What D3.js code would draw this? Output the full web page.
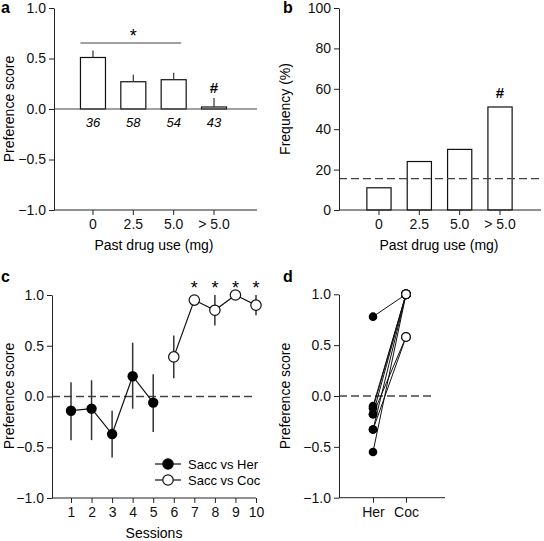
<!DOCTYPE html>
<html><head><meta charset="utf-8">
<script src="https://cdn.jsdelivr.net/npm/d3@7"></script>
<style>
body{margin:0;background:#fff;}
svg{display:block;font-family:Arial,"Liberation Sans",sans-serif;}
.tick text{font-size:14px;fill:#111;font-family:Arial,"Liberation Sans",sans-serif;}
.tick line{stroke:#222;}
</style></head>
<body>
<svg id="chart" width="544" height="541"></svg>
<script>
// Panel a
const catsA = ["0", "2.5", "5.0", "> 5.0"];
const prefA = [0.51, 0.27, 0.29, 0.02];
const errA = [0.07, 0.07, 0.07, 0.09];
const nA = ["36", "58", "54", "43"];
const yTicksPref = [-1.0, -0.5, 0.0, 0.5, 1.0];
// Panel b
const freqB = [11, 24, 30, 51];
const chanceB = 15.5;
const yTicksFreq = [0, 20, 40, 60, 80, 100];
// Panel c
const sessionsHer = [1, 2, 3, 4, 5];
const herMean = [-0.14, -0.12, -0.37, 0.20, -0.06];
const herLo = [-0.43, -0.43, -0.60, -0.12, -0.35];
const herHi = [0.14, 0.16, -0.14, 0.53, 0.22];
const sessionsCoc = [6, 7, 8, 9, 10];
const cocMean = [0.39, 0.95, 0.85, 1.0, 0.90];
const cocLo = [0.18, 0.95, 0.70, 1.0, 0.80];
const cocHi = [0.60, 0.95, 1.0, 1.0, 1.0];
const sigSessions = [7, 8, 9, 10];
// Panel d
const drugsD = ["Her", "Coc"];
const herD = [0.78, -0.10, -0.12, -0.18, -0.33, -0.55, -0.18, -0.33];
const cocD = [1.0, 1.0, 1.0, 1.0, 1.0, 1.0, 0.58, 0.58];

const svg = d3.select("#chart");
const fmt1 = d3.format(".1f");
const AX = "#222";

function yAxis(g, scale, x, ticks, fmt) {
  g.append("g").attr("transform", `translate(${x},0)`)
    .call(d3.axisLeft(scale).tickValues(ticks).tickFormat(fmt).tickSize(5).tickSizeOuter(0).tickPadding(3))
    .call(s => s.select(".domain").attr("stroke", AX));
}
function xAxisBottom(g, scale, y, x0, x1) {
  const a = g.append("g").attr("transform", `translate(0,${y})`)
    .call(d3.axisBottom(scale).tickSize(5).tickPadding(4));
  a.select(".domain").remove();
  g.append("line").attr("x1", x0).attr("x2", x1).attr("y1", y).attr("y2", y).attr("stroke", AX);
  return a;
}
function letter(t, x, y) {
  svg.append("text").attr("x", x).attr("y", y).attr("font-weight", "bold").attr("font-size", 16).text(t);
}
function ylabel(t, x, y) {
  svg.append("text").attr("transform", `translate(${x},${y}) rotate(-90)`).attr("text-anchor", "middle")
    .attr("font-size", 14).text(t);
}
function xlabel(t, x, y) {
  svg.append("text").attr("x", x).attr("y", y).attr("text-anchor", "middle").attr("font-size", 14).text(t);
}

// ---------- Panel a ----------
{
  const g = svg.append("g");
  const y = d3.scaleLinear().domain([-1, 1]).range([210, 8]);
  const x = d3.scaleBand().domain(catsA).range([72.8, 234.2]).paddingInner(0.38).paddingOuter(0.19);
  g.selectAll("rect.bar").data(catsA).join("rect")
    .attr("x", d => x(d)).attr("width", x.bandwidth())
    .attr("y", (d, i) => y(Math.max(0, prefA[i])))
    .attr("height", (d, i) => Math.abs(y(prefA[i]) - y(0)))
    .attr("fill", "#fff").attr("stroke", "#111").attr("stroke-width", 1.2);
  g.selectAll("line.err").data(catsA).join("line")
    .attr("x1", d => x(d) + x.bandwidth() / 2).attr("x2", d => x(d) + x.bandwidth() / 2)
    .attr("y1", (d, i) => y(prefA[i])).attr("y2", (d, i) => y(prefA[i] + errA[i]))
    .attr("stroke", "#333").attr("stroke-width", 1.2);
  g.append("line").attr("x1", 54).attr("x2", 257).attr("y1", y(0)).attr("y2", y(0)).attr("stroke", "#444").attr("stroke-width", 1.2);
  yAxis(g, y, 54, yTicksPref, fmt1);
  xAxisBottom(g, x, 210, 54, 257);
  g.selectAll("text.n").data(catsA).join("text")
    .attr("x", d => x(d) + x.bandwidth() / 2).attr("y", y(0) + 18)
    .attr("text-anchor", "middle").attr("font-style", "italic").attr("font-size", 13)
    .text((d, i) => nA[i]);
  g.append("line").attr("x1", x(catsA[0])).attr("x2", x(catsA[2]) + x.bandwidth() - 5)
    .attr("y1", 43).attr("y2", 43).attr("stroke", "#444");
  g.append("text").attr("x", (x(catsA[0]) + x(catsA[2]) + x.bandwidth()) / 2).attr("y", 42)
    .attr("text-anchor", "middle").attr("font-size", 18).text("*");
  g.append("text").attr("x", x(catsA[3]) + x.bandwidth() / 2).attr("y", y(prefA[3] + errA[3]) - 5)
    .attr("text-anchor", "middle").attr("font-size", 15).attr("font-weight", "bold").text("#");
  letter("a", 1, 13);
  ylabel("Preference score", 14, 109);
  xlabel("Past drug use (mg)", 154, 250);
}

// ---------- Panel b ----------
{
  const g = svg.append("g");
  const y = d3.scaleLinear().domain([0, 100]).range([210, 8]);
  const x = d3.scaleBand().domain(catsA).range([358.8, 520.2]).paddingInner(0.40).paddingOuter(0.20);
  g.selectAll("rect.bar").data(catsA).join("rect")
    .attr("x", d => x(d)).attr("width", x.bandwidth())
    .attr("y", (d, i) => y(freqB[i])).attr("height", (d, i) => y(0) - y(freqB[i]))
    .attr("fill", "#fff").attr("stroke", "#111").attr("stroke-width", 1.2);
  g.append("line").attr("x1", 339).attr("x2", 541).attr("y1", y(chanceB)).attr("y2", y(chanceB))
    .attr("stroke", "#444").attr("stroke-width", 1.3).attr("stroke-dasharray", "8,4");
  yAxis(g, y, 339, yTicksFreq, d3.format("d"));
  xAxisBottom(g, x, 210, 339, 541);
  g.append("text").attr("x", x(catsA[3]) + x.bandwidth() / 2).attr("y", y(freqB[3]) - 9)
    .attr("text-anchor", "middle").attr("font-size", 15).attr("font-weight", "bold").text("#");
  letter("b", 283, 13);
  ylabel("Frequency (%)", 290, 109);
  xlabel("Past drug use (mg)", 439, 250);
}

// ---------- Panel c ----------
{
  const g = svg.append("g");
  const y = d3.scaleLinear().domain([-1, 1]).range([498, 295]);
  const x = d3.scaleLinear().domain([1, 10]).range([71, 256]);
  g.append("line").attr("x1", 52).attr("x2", 256).attr("y1", y(0)).attr("y2", y(0))
    .attr("stroke", "#444").attr("stroke-width", 1.3).attr("stroke-dasharray", "8,4");
  yAxis(g, y, 52, yTicksPref, fmt1);
  const ax = g.append("g").attr("transform", "translate(0,498)")
    .call(d3.axisBottom(x).tickValues(d3.range(1, 11)).tickFormat(d3.format("d")).tickSize(5).tickPadding(4));
  ax.select(".domain").remove();
  g.append("line").attr("x1", 52).attr("x2", 256).attr("y1", 498).attr("y2", 498).attr("stroke", AX);
  const errs = (xs, lo, hi) => g.append("g").selectAll("line").data(xs).join("line")
    .attr("x1", d => x(d)).attr("x2", d => x(d))
    .attr("y1", (d, i) => y(lo[i])).attr("y2", (d, i) => y(hi[i]))
    .attr("stroke", "#333").attr("stroke-width", 1.5);
  errs(sessionsHer, herLo, herHi);
  errs(sessionsCoc, cocLo, cocHi);
  const line = d3.line().x(d => x(d[0])).y(d => y(d[1]));
  g.append("path").attr("d", line(sessionsHer.map((s, i) => [s, herMean[i]]))).attr("fill", "none").attr("stroke", "#111").attr("stroke-width", 1.2);
  g.append("path").attr("d", line(sessionsCoc.map((s, i) => [s, cocMean[i]]))).attr("fill", "none").attr("stroke", "#111").attr("stroke-width", 1.2);
  g.selectAll("circle.her").data(sessionsHer).join("circle")
    .attr("cx", d => x(d)).attr("cy", (d, i) => y(herMean[i])).attr("r", 5.2).attr("fill", "#000");
  g.selectAll("circle.coc").data(sessionsCoc).join("circle")
    .attr("cx", d => x(d)).attr("cy", (d, i) => y(cocMean[i])).attr("r", 5.2).attr("fill", "#fff").attr("stroke", "#111").attr("stroke-width", 1.2);
  g.selectAll("text.star").data(sigSessions).join("text")
    .attr("x", d => x(d)).attr("y", 294).attr("text-anchor", "middle").attr("font-size", 18).text("*");
  const leg = [["Sacc vs Her", "#000"], ["Sacc vs Coc", "#fff"]];
  leg.forEach((l, i) => {
    const ly = 464 + i * 16;
    g.append("line").attr("x1", 155).attr("x2", 181).attr("y1", ly).attr("y2", ly).attr("stroke", "#111").attr("stroke-width", 1.2);
    g.append("circle").attr("cx", 168).attr("cy", ly).attr("r", 5.2).attr("fill", l[1]).attr("stroke", "#111").attr("stroke-width", 1.2);
    g.append("text").attr("x", 188).attr("y", ly + 4.5).attr("font-size", 13).text(l[0]);
  });
  letter("c", 1, 282);
  ylabel("Preference score", 14, 396);
  xlabel("Sessions", 154, 538);
}

// ---------- Panel d ----------
{
  const g = svg.append("g");
  const y = d3.scaleLinear().domain([-1, 1]).range([497.7, 294.3]);
  const x = d3.scalePoint().domain(drugsD).range([373, 406]);
  g.append("line").attr("x1", 339).attr("x2", 435).attr("y1", y(0)).attr("y2", y(0))
    .attr("stroke", "#444").attr("stroke-width", 1.3).attr("stroke-dasharray", "8,4");
  yAxis(g, y, 339, yTicksPref, fmt1);
  xAxisBottom(g, x, 497.7, 339, 445);
  herD.forEach((h, i) => {
    g.append("line").attr("x1", x("Her")).attr("x2", x("Coc")).attr("y1", y(h)).attr("y2", y(cocD[i]))
      .attr("stroke", "#111").attr("stroke-width", 1);
  });
  g.selectAll("circle.h").data(herD).join("circle")
    .attr("cx", x("Her")).attr("cy", d => y(d)).attr("r", 4.3).attr("fill", "#000");
  g.selectAll("circle.c").data(cocD).join("circle")
    .attr("cx", x("Coc")).attr("cy", d => y(d)).attr("r", 4.3).attr("fill", "#fff").attr("stroke", "#111").attr("stroke-width", 1.2);
  letter("d", 283, 282);
  ylabel("Preference score", 290, 396);
}
</script>
</body></html>
